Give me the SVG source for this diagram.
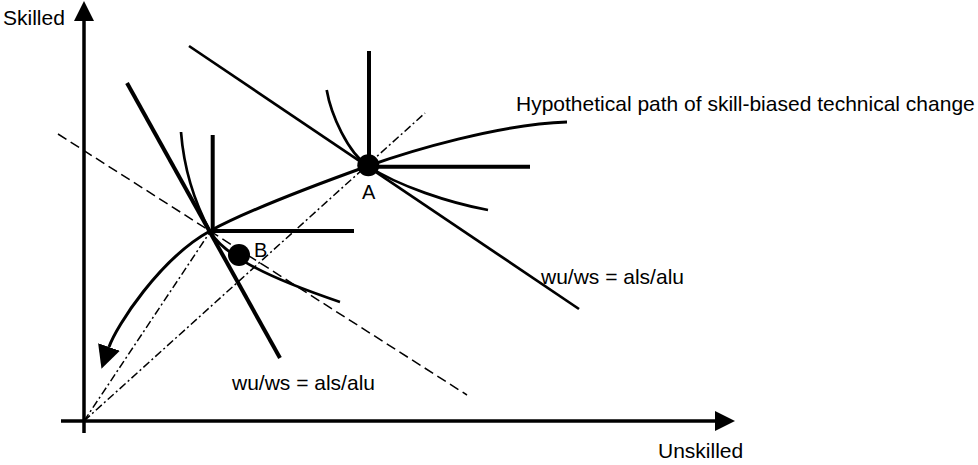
<svg xmlns="http://www.w3.org/2000/svg" width="978" height="465" viewBox="0 0 978 465">
<style>
  text { font-family: "Liberation Sans", Arial, sans-serif; font-size: 21px; fill: #000; }
  .pt { font-size: 20px; }
  .axis { stroke: #000; stroke-width: 3.5; fill: none; }
  .thick { stroke: #000; stroke-width: 4; fill: none; }
  .budget { stroke: #000; stroke-width: 2.7; fill: none; }
  .curve { stroke: #000; stroke-width: 2.7; fill: none; }
  .path { stroke: #000; stroke-width: 3; fill: none; }
  .dash { stroke: #000; stroke-width: 1.5; fill: none; stroke-dasharray: 10 5; }
  .dashdot { stroke: #000; stroke-width: 1.5; fill: none; stroke-dasharray: 8 3 2 3; }
  .dot { fill: #000; }
</style>
<defs>
  <marker id="arrow" markerUnits="userSpaceOnUse" markerWidth="20" markerHeight="20" viewBox="0 0 20 20" refX="0" refY="10" orient="auto">
    <path d="M0,0 L20,10 L0,20 z" fill="#000"/>
  </marker>
  <marker id="arrowBig" markerUnits="userSpaceOnUse" markerWidth="23" markerHeight="23" viewBox="0 0 23 23" refX="0" refY="11.5" orient="auto">
    <path d="M0,0 L23,11.5 L0,23 z" fill="#000"/>
  </marker>
</defs>

<g id="axes">
  <line class="axis" x1="84" y1="433" x2="84" y2="21" marker-end="url(#arrow)"/>
  <line class="axis" x1="61" y1="421" x2="715" y2="421" marker-end="url(#arrow)"/>
  <text x="3" y="25">Skilled</text>
  <text x="658" y="458">Unskilled</text>
</g>

<g id="connectors">
  <line id="ray-A" class="dashdot" x1="84" y1="421" x2="425" y2="113"/>
  <line id="ray-B" class="dashdot" x1="84" y1="421" x2="212" y2="229"/>
  <line id="dashed-price" class="dash" x1="58" y1="134" x2="467" y2="395"/>
  <line id="budget-A" class="budget" x1="189" y1="46" x2="579" y2="309"/>
  <line id="budget-B" class="thick" x1="127" y1="83" x2="280" y2="358"/>
  <path id="sbtc-path" class="path" d="M567,122 C500,124 410,151 368,166 C318,184 250,209 210,231 C160,258.5 116.2,326.2 109,347" marker-end="url(#arrowBig)"/>
</g>

<g id="isoquant-A">
  <path class="thick" d="M369,51 V166.7 H530"/>
  <path class="curve" d="M326.7,90 C331,115 348,152.6 368,166 C398,186 450,203 488,210"/>
</g>

<g id="isoquant-B">
  <path class="thick" d="M212.7,135 V231 H354"/>
  <path class="curve" d="M181,132 C184,170 196,205 210,231 C222,253 260,275 340,302"/>
</g>

<g id="point-A">
  <circle class="dot" cx="368.3" cy="165.3" r="11"/>
  <text class="pt" x="362" y="199">A</text>
</g>

<g id="point-B">
  <circle class="dot" cx="239" cy="255" r="11"/>
  <text class="pt" x="254" y="257">B</text>
</g>

<g id="labels">
  <text x="516" y="111">Hypothetical path of skill-biased technical change</text>
  <text x="541" y="284">wu/ws = als/alu</text>
  <text x="232" y="390">wu/ws = als/alu</text>
</g>
</svg>
